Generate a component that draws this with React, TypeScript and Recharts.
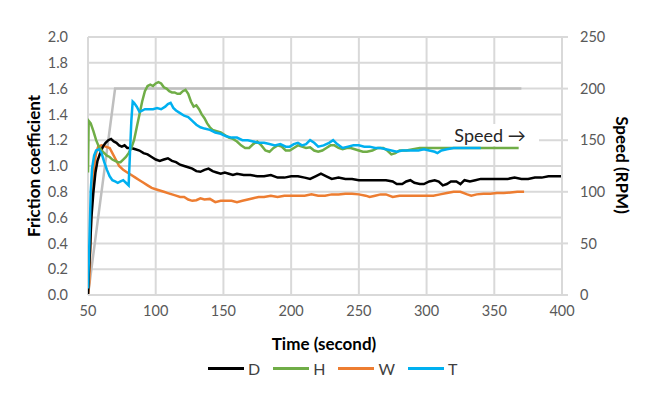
import { LineChart, Line, XAxis, YAxis, CartesianGrid } from 'recharts'

// [time (s), friction coefficient]
const seriesD: [number, number][] = [
  [50, 0], [50.5, 0.15], [51.5, 0.35], [52.5, 0.6], [54, 0.8], [55.5, 0.95], [57, 1.04], [59, 1.1],
  [61, 1.15], [63, 1.18], [65, 1.2], [67, 1.21], [69, 1.19], [71, 1.18], [73, 1.16], [75, 1.15],
  [77, 1.16], [79, 1.14], [82, 1.14], [85, 1.13], [88, 1.12], [91, 1.1], [94, 1.09], [97, 1.07],
  [100, 1.05], [103, 1.04], [106, 1.05], [109, 1.06], [112, 1.04], [115, 1.03], [118, 1.01], [121, 1.0],
  [124, 0.99], [127, 0.98], [130, 0.96], [133, 0.955], [136, 0.97], [139, 0.98], [142, 0.96], [145, 0.95],
  [148, 0.94], [151, 0.95], [154, 0.94], [157, 0.93], [160, 0.94], [165, 0.93], [170, 0.93], [175, 0.92],
  [180, 0.92], [185, 0.93], [190, 0.91], [195, 0.91], [200, 0.92], [205, 0.92], [210, 0.91], [214, 0.9],
  [218, 0.92], [222, 0.94], [226, 0.92], [230, 0.9], [235, 0.91], [240, 0.9], [245, 0.9], [250, 0.89],
  [255, 0.89], [260, 0.89], [265, 0.89], [270, 0.89], [275, 0.88], [278, 0.86], [282, 0.86], [285, 0.88],
  [288, 0.89], [291, 0.87], [295, 0.86], [298, 0.86], [302, 0.88], [306, 0.89], [309, 0.88], [312, 0.85],
  [315, 0.86], [318, 0.88], [322, 0.88], [325, 0.86], [328, 0.89], [332, 0.88], [336, 0.89], [340, 0.9],
  [345, 0.9], [350, 0.9], [355, 0.9], [360, 0.9], [365, 0.91], [370, 0.9], [375, 0.9], [380, 0.91],
  [385, 0.91], [390, 0.92], [395, 0.92], [400, 0.92],
]

const seriesH: [number, number][] = [
  [50, 0.95], [50.5, 1.35], [52, 1.33], [54, 1.27], [56, 1.2], [58, 1.15], [60, 1.12], [62, 1.1],
  [64, 1.08], [66, 1.07], [68, 1.05], [70, 1.04], [72, 1.03], [74, 1.03], [76, 1.05], [78, 1.07],
  [80, 1.1], [82, 1.14], [84, 1.2], [86, 1.3], [88, 1.4], [90, 1.5], [92, 1.58], [94, 1.62],
  [96, 1.63], [98, 1.62], [100, 1.64], [102, 1.65], [104, 1.64], [106, 1.61], [108, 1.6], [110, 1.58],
  [112, 1.57], [114, 1.57], [116, 1.56], [118, 1.56], [120, 1.58], [122, 1.59], [124, 1.56], [126, 1.5],
  [128, 1.46], [130, 1.47], [132, 1.44], [134, 1.4], [136, 1.37], [138, 1.33], [140, 1.3], [142, 1.28],
  [145, 1.27], [148, 1.26], [151, 1.24], [154, 1.22], [157, 1.21], [160, 1.19], [163, 1.16], [166, 1.14],
  [169, 1.14], [172, 1.17], [175, 1.19], [178, 1.16], [181, 1.12], [184, 1.11], [187, 1.14], [190, 1.16],
  [193, 1.15], [196, 1.12], [199, 1.12], [202, 1.14], [205, 1.16], [208, 1.15], [211, 1.14], [214, 1.145],
  [217, 1.12], [220, 1.11], [223, 1.12], [226, 1.14], [229, 1.16], [232, 1.16], [235, 1.14], [238, 1.13],
  [241, 1.14], [244, 1.14], [247, 1.13], [250, 1.12], [253, 1.11], [256, 1.11], [260, 1.12], [264, 1.14],
  [268, 1.14], [271, 1.12], [274, 1.09], [277, 1.1], [280, 1.12], [285, 1.12], [290, 1.13], [295, 1.14],
  [300, 1.14], [310, 1.14], [320, 1.14], [330, 1.14], [340, 1.14], [350, 1.14], [360, 1.14], [368, 1.14],
]

const seriesW: [number, number][] = [
  [50, 0], [51, 0.1], [52, 0.5], [53, 0.8], [54.5, 1.0], [56, 1.1], [57.5, 1.15], [60, 1.16],
  [63, 1.15], [66, 1.14], [68, 1.1], [70, 1.06], [73, 1.0], [76, 0.97], [79, 0.95], [82, 0.93],
  [85, 0.91], [88, 0.89], [91, 0.87], [94, 0.85], [97, 0.83], [100, 0.82], [103, 0.81], [106, 0.8],
  [109, 0.79], [112, 0.78], [115, 0.77], [118, 0.76], [121, 0.76], [124, 0.74], [127, 0.73], [130, 0.735],
  [133, 0.75], [136, 0.74], [140, 0.745], [144, 0.72], [148, 0.73], [152, 0.73], [156, 0.73], [160, 0.72],
  [164, 0.73], [168, 0.74], [172, 0.75], [176, 0.76], [180, 0.76], [185, 0.77], [190, 0.76], [195, 0.77],
  [200, 0.77], [205, 0.77], [210, 0.77], [215, 0.78], [220, 0.77], [225, 0.77], [230, 0.78], [235, 0.78],
  [240, 0.785], [245, 0.785], [250, 0.78], [255, 0.77], [258, 0.76], [262, 0.77], [266, 0.78], [270, 0.78],
  [275, 0.76], [280, 0.77], [285, 0.77], [290, 0.77], [295, 0.77], [300, 0.77], [305, 0.77], [310, 0.78],
  [315, 0.79], [320, 0.8], [325, 0.8], [330, 0.78], [333, 0.77], [337, 0.78], [342, 0.785], [347, 0.785],
  [352, 0.79], [357, 0.79], [362, 0.795], [367, 0.8], [372, 0.8],
]

const seriesT: [number, number][] = [
  [50, 0.05], [51, 0.4], [52, 0.8], [53, 0.98], [54.5, 1.08], [56, 1.12], [58, 1.13], [60, 1.1],
  [62, 1.03], [64, 0.97], [66, 0.92], [68, 0.89], [70, 0.88], [72, 0.87], [74, 0.88], [76, 0.89],
  [78, 0.87], [80, 0.85], [81, 1.1], [82, 1.35], [83, 1.5], [84, 1.49], [86, 1.46], [88, 1.42],
  [90, 1.43], [92, 1.44], [95, 1.44], [98, 1.44], [101, 1.45], [104, 1.44], [107, 1.46], [109, 1.48],
  [111, 1.49], [113, 1.45], [115, 1.43], [118, 1.41], [121, 1.39], [124, 1.38], [127, 1.35], [130, 1.32],
  [133, 1.3], [136, 1.29], [140, 1.28], [144, 1.26], [148, 1.25], [152, 1.23], [156, 1.22], [160, 1.22],
  [164, 1.2], [168, 1.2], [172, 1.19], [176, 1.18], [180, 1.18], [184, 1.17], [188, 1.16], [192, 1.17],
  [196, 1.15], [199, 1.15], [202, 1.17], [205, 1.18], [208, 1.16], [211, 1.17], [214, 1.2], [217, 1.18],
  [220, 1.15], [224, 1.16], [228, 1.18], [231, 1.2], [234, 1.17], [238, 1.14], [242, 1.15], [246, 1.16],
  [250, 1.16], [254, 1.15], [258, 1.15], [262, 1.14], [266, 1.14], [270, 1.13], [274, 1.12], [278, 1.11],
  [282, 1.12], [286, 1.12], [290, 1.12], [294, 1.12], [298, 1.13], [302, 1.12], [306, 1.11], [308, 1.1],
  [311, 1.12], [315, 1.13], [320, 1.14], [325, 1.14], [330, 1.14], [335, 1.14], [340, 1.14],
]

// [time (s), speed (RPM)]
const seriesSpeed: [number, number][] = [
  [50, 0], [70, 200], [100, 200], [150, 200], [200, 200], [250, 200], [300, 200], [350, 200], [370, 200],
]

const timeTicks = [50, 100, 150, 200, 250, 300, 350, 400]
const frictionTicks = [0, 0.2, 0.4, 0.6, 0.8, 1.0, 1.2, 1.4, 1.6, 1.8, 2.0]
const speedTicks = [0, 50, 100, 150, 200, 250]

const legendItems = [
  { name: 'D', color: '#000000' },
  { name: 'H', color: '#70ad47' },
  { name: 'W', color: '#ed7d31' },
  { name: 'T', color: '#00b0f0' },
]

const toRows = (s: [number, number][]) => s.map(([t, v]) => ({ t, v }))

const FONT = 'Lato, "Open Sans", sans-serif'
const tickStyle = { fontSize: 14.5, fill: '#595959', fontFamily: FONT }
const titleStyle = {
  position: 'absolute' as const,
  whiteSpace: 'nowrap' as const,
  fontWeight: 700,
  fontSize: 17,
  color: '#000',
}

export default function App() {
  return (
    <div
      style={{
        position: 'absolute',
        left: 0,
        top: 0,
        width: 661,
        height: 396,
        background: '#fff',
        fontFamily: FONT,
      }}
    >
      <LineChart width={661} height={396} margin={{ top: 37, right: 39, left: 20, bottom: 71 }}>
        <CartesianGrid yAxisId="left" stroke="#d9d9d9" strokeWidth={2} />
        <XAxis
          dataKey="t"
          type="number"
          domain={[50, 400]}
          ticks={timeTicks}
          allowDataOverflow
          height={30}
          tick={tickStyle}
          tickLine={false}
          tickSize={0}
          tickMargin={11}
          axisLine={{ stroke: '#d9d9d9', strokeWidth: 2 }}
        />
        <YAxis
          yAxisId="left"
          domain={[0, 2]}
          ticks={frictionTicks}
          width={68}
          tick={tickStyle}
          tickFormatter={(v: number) => v.toFixed(1)}
          tickLine={false}
          tickSize={0}
          tickMargin={20}
          axisLine={false}
        />
        <YAxis
          yAxisId="right"
          orientation="right"
          domain={[0, 250]}
          ticks={speedTicks}
          width={60}
          tick={tickStyle}
          tickLine={{ stroke: '#d9d9d9', strokeWidth: 2 }}
          tickSize={6}
          tickMargin={12}
          axisLine={{ stroke: '#d9d9d9', strokeWidth: 2 }}
        />
        <Line
          yAxisId="right"
          data={toRows(seriesSpeed)}
          dataKey="v"
          stroke="#bfbfbf"
          strokeWidth={2.5}
          dot={false}
          isAnimationActive={false}
        />
        <Line yAxisId="left" data={toRows(seriesW)} dataKey="v" stroke="#ed7d31" strokeWidth={2.5} dot={false} isAnimationActive={false} />
        <Line yAxisId="left" data={toRows(seriesD)} dataKey="v" stroke="#000000" strokeWidth={2.5} dot={false} isAnimationActive={false} />
        <Line yAxisId="left" data={toRows(seriesH)} dataKey="v" stroke="#70ad47" strokeWidth={2.5} dot={false} isAnimationActive={false} />
        <Line yAxisId="left" data={toRows(seriesT)} dataKey="v" stroke="#00b0f0" strokeWidth={2.5} dot={false} isAnimationActive={false} />
      </LineChart>

      {/* Speed annotation box */}
      <div
        style={{
          position: 'absolute',
          left: 441,
          top: 124,
          width: 98,
          height: 22,
          background: '#fff',
          fontSize: 18,
          color: '#262626',
          lineHeight: '22px',
          textAlign: 'center',
        }}
      >
        Speed →
      </div>

      <div style={{ ...titleStyle, left: 33, top: 166, transform: 'translate(-50%, -50%) rotate(-90deg)' }}>
        Friction coefficient
      </div>
      <div style={{ ...titleStyle, left: 622, top: 165, transform: 'translate(-50%, -50%) rotate(90deg)' }}>
        Speed (RPM)
      </div>
      <div style={{ ...titleStyle, left: 324, top: 343, transform: 'translate(-50%, -50%)' }}>
        Time (second)
      </div>

      <div
        style={{
          position: 'absolute',
          left: 208,
          top: 359,
          display: 'flex',
          alignItems: 'center',
          gap: 13,
          fontSize: 16,
          color: '#404040',
        }}
      >
        {legendItems.map((it) => (
          <div key={it.name} style={{ display: 'flex', alignItems: 'center', gap: 4 }}>
            <div style={{ width: 36, height: 3, background: it.color }} />
            <span>{it.name}</span>
          </div>
        ))}
      </div>
    </div>
  )
}
